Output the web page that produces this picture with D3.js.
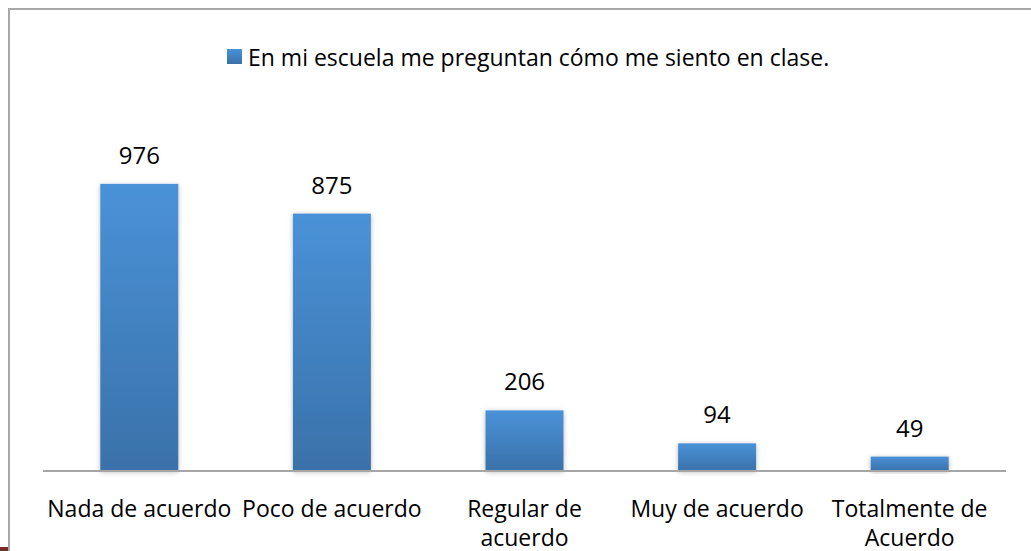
<html>
<head>
<meta charset="utf-8">
<title>En mi escuela me preguntan cómo me siento en clase.</title>
<style>
    body { margin: 0; background: #fff; }
    text { font-family: "Open Sans", sans-serif; fill: #000; }
</style>
<script src="https://cdn.jsdelivr.net/npm/d3@7"></script>
</head>
<body>
<div class="mainView"></div>
<script>
    // data
    let categories = ["Nada de acuerdo", "Poco de acuerdo", "Regular de acuerdo", "Muy de acuerdo", "Totalmente de Acuerdo"];
    let labelLines = [["Nada de acuerdo"], ["Poco de acuerdo"], ["Regular de", "acuerdo"], ["Muy de acuerdo"], ["Totalmente de", "Acuerdo"]];
    let values = [976, 875, 206, 94, 49];
    let seriesName = "En mi escuela me preguntan cómo me siento en clase.";

    let width = 1031;
    let height = 551;
    let svg = d3.select(".mainView")
        .append("svg")
        .attr("width", width)
        .attr("height", height)
        .style("display", "block");

    let defs = svg.append("defs");
    let grad = defs.append("linearGradient")
        .attr("id", "barGrad")
        .attr("x1", 0).attr("y1", 0).attr("x2", 0).attr("y2", 1);
    grad.append("stop").attr("offset", "0%").attr("stop-color", "#4a92d8");
    grad.append("stop").attr("offset", "100%").attr("stop-color", "#3a71a9");

    let shadow = defs.append("filter")
        .attr("id", "shadow")
        .attr("x", "-20%").attr("y", "-20%").attr("width", "140%").attr("height", "140%");
    shadow.append("feDropShadow")
        .attr("dx", 0).attr("dy", 1)
        .attr("stdDeviation", 2.5)
        .attr("flood-color", "#000")
        .attr("flood-opacity", 0.28);

    // chart frame (runs off the right and bottom edges)
    svg.append("rect")
        .attr("x", 9).attr("y", 9)
        .attr("width", 1100).attr("height", 600)
        .attr("fill", "none")
        .attr("stroke", "#a8a8a8")
        .attr("stroke-width", 2);

    // little dark red mark bottom-left
    svg.append("rect")
        .attr("x", 0).attr("y", 547)
        .attr("width", 8).attr("height", 4)
        .attr("fill", "#7b2a2a");

    let x = d3.scaleBand()
        .domain(categories)
        .range([43, 1006])
        .paddingInner(0.595)
        .paddingOuter(0.2975);

    let y = d3.scaleLinear()
        .domain([0, 1200])
        .range([471, 118]);

    // bars
    svg.selectAll("rect.bar")
        .data(values)
        .enter()
        .append("rect")
        .attr("class", "bar")
        .attr("x", (d, i) => x(categories[i]))
        .attr("y", d => y(d))
        .attr("width", x.bandwidth())
        .attr("height", d => y(0) - y(d))
        .attr("fill", "url(#barGrad)")
        .attr("filter", "url(#shadow)");

    // baseline
    svg.append("line")
        .attr("x1", 43).attr("x2", 1006)
        .attr("y1", y(0)).attr("y2", y(0))
        .attr("stroke", "#a6a6a6")
        .attr("stroke-width", 2);

    // value labels
    svg.selectAll("text.val")
        .data(values)
        .enter()
        .append("text")
        .attr("class", "val")
        .attr("x", (d, i) => x(categories[i]) + x.bandwidth() / 2)
        .attr("y", d => y(d) - 20)
        .attr("text-anchor", "middle")
        .style("font-size", "24px")
        .text(d => d);

    // category labels
    let cats = svg.selectAll("text.cat")
        .data(categories)
        .enter()
        .append("text")
        .attr("class", "cat")
        .attr("x", d => x(d) + x.bandwidth() / 2)
        .attr("y", 517)
        .attr("text-anchor", "middle")
        .style("font-size", "23px");
    cats.each(function(d, i) {
        let t = d3.select(this);
        labelLines[i].forEach((line, j) => {
            t.append("tspan")
                .attr("x", x(d) + x.bandwidth() / 2)
                .attr("dy", j === 0 ? 0 : 29)
                .text(line);
        });
    });

    // legend
    let legend = svg.append("g");
    legend.append("rect")
        .attr("x", 227).attr("y", 49)
        .attr("width", 15).attr("height", 15)
        .attr("fill", "url(#barGrad)");
    legend.append("text")
        .attr("x", 248).attr("y", 66)
        .style("font-size", "23px")
        .text(seriesName);
</script>
</body>
</html>
